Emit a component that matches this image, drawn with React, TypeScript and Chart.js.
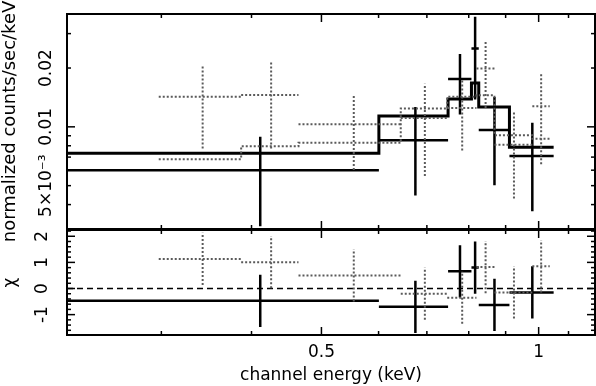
import React, { useEffect, useRef } from 'react';
import { Chart, registerables } from 'chart.js';
Chart.register(...registerables);

// ---- axis limits ----
const X_MIN = 0.222;
const X_MAX = 1.197;
const Y_MIN = 0.003;
const Y_MAX = 0.0378;
const R_MIN = -1.78;
const R_MAX = 2.24;

// ---- black spectrum (bin edges in keV) ----
const blackEdges = [0.222, 0.6006, 0.749, 0.807, 0.826, 0.911, 1.049];
const blackData = [0.006, 0.00855, 0.01756, 0.0252, 0.00962, 0.0071];
const blackErr = [0.0029, 0.0041, 0.006, 0.0114, 0.0046, 0.0034];
const blackModel = [0.00733, 0.01135, 0.01387, 0.01675, 0.01262, 0.00787];
const blackResid = [-0.47, -0.7, 0.66, 0.8, -0.63, -0.15];
const blackResidErr = [1, 1, 1, 1, 1, 1];

// ---- grey spectrum ----
const greyEdges = [0.2975, 0.387, 0.4647, 0.644, 0.747, 0.82, 0.8685, 0.98, 1.036];
const greyData = [0.01425, 0.01455, 0.01032, 0.0111, 0.01247, 0.0199, 0.0081, 0.01273];
const greyErr = [0.0065, 0.0068, 0.0043, 0.0055, 0.0049, 0.0074, 0.0038, 0.0063];
const greyModel = [0.00683, 0.00796, 0.00828, 0.01243, 0.01425, 0.0145, 0.00906, 0.0087];
const greyResid = [1.13, 1.01, 0.5, -0.2, -0.35, 0.82, -0.15, 0.85];
const greyResidErr = [1, 1, 1, 1, 1, 1, 1, 1];

// ---- tick labels and tick marks ----
const xLabelVals = [0.5, 1];
const xLabels = ['0.5', '1'];
const xMajor = [0.5, 1];
const xMinor = [0.3, 0.4, 0.6, 0.7, 0.8, 0.9, 1.1];

const yLabelVals = [0.005, 0.01, 0.02];
const yLabels = ['5×10⁻³', '0.01', '0.02'];
const yMajor = [0.01];
const yMinor = [0.003, 0.004, 0.005, 0.006, 0.007, 0.008, 0.009, 0.02, 0.03];

const rLabelVals = [-1, 0, 1, 2];
const rLabels = ['-1', '0', '1', '2'];
const rMajor = [-1, 0, 1, 2];
const rMinor = [-1.6, -1.4, -1.2, -0.8, -0.6, -0.4, -0.2, 0.2, 0.4, 0.6, 0.8, 1.2, 1.4, 1.6, 1.8, 2.2];

const FONT = "'DejaVu Sans', sans-serif";
const FS = 17;

function crossPts(edges: number[], vals: number[], errs: number[]) {
  const pts: any[] = [];
  vals.forEach((v, i) => {
    const lo = edges[i];
    const hi = edges[i + 1];
    const c = (lo + hi) / 2;
    const e = errs[i];
    pts.push({ x: lo, y: v }, { x: hi, y: v }, { x: hi, y: null });
    pts.push({ x: c, y: v - e }, { x: c, y: v + e }, { x: c, y: null });
  });
  return pts;
}

function stepPts(edges: number[], vals: number[]) {
  const pts: any[] = vals.map((v, i) => ({ x: edges[i], y: v }));
  pts.push({ x: edges[edges.length - 1], y: vals[vals.length - 1] });
  return pts;
}

const frameTicks = {
  id: 'frameTicks',
  afterDraw(chart: any, _args: any, opts: any) {
    const { ctx, chartArea: a, scales } = chart;
    const xs = scales.x;
    const ys = scales.y;
    ctx.save();
    ctx.strokeStyle = '#000';
    ctx.lineWidth = 1.5;
    const seg = (x1: number, y1: number, x2: number, y2: number) => {
      ctx.beginPath();
      ctx.moveTo(x1, y1);
      ctx.lineTo(x2, y2);
      ctx.stroke();
    };
    const doX = (vals: number[], len: number) => {
      vals.forEach((v) => {
        const p = xs.getPixelForValue(v);
        seg(p, a.top, p, a.top + len);
        seg(p, a.bottom, p, a.bottom - len);
      });
    };
    const doY = (vals: number[], len: number) => {
      vals.forEach((v) => {
        const p = ys.getPixelForValue(v);
        seg(a.left, p, a.left + len, p);
        seg(a.right, p, a.right - len, p);
      });
    };
    doX(opts.xMinor, 4);
    doX(opts.xMajor, 8);
    doY(opts.yMinor, 4);
    doY(opts.yMajor, 8);
    ctx.lineWidth = 2;
    ctx.strokeRect(a.left, a.top, a.right - a.left, a.bottom - a.top);
    ctx.restore();
  },
};

const lookup = (vals: number[], labels: string[]) => (value: any) => {
  const i = vals.findIndex((t) => Math.abs(t - Number(value)) < 1e-9);
  return i >= 0 ? labels[i] : '';
};

const noPad = (s: any) => {
  s.paddingTop = 0;
  s.paddingBottom = 0;
  s.paddingLeft = 0;
  s.paddingRight = 0;
};

export default function App() {
  const topRef = useRef<HTMLCanvasElement>(null);
  const botRef = useRef<HTMLCanvasElement>(null);

  useEffect(() => {
    document.body.style.margin = '0';
    Chart.defaults.font.family = FONT;
    Chart.defaults.font.size = FS;
    Chart.defaults.color = '#000';

    const m = document.createElement('canvas').getContext('2d')!;
    m.font = `${FS}px ${FONT}`;
    const wTop = Math.max(...yLabels.map((s) => m.measureText(s).width));
    const wBot = Math.max(...rLabels.map((s) => m.measureText(s).width));

    const black = { borderColor: '#000', borderWidth: 2.5 };
    const grey = { borderColor: '#5a5a5a', borderWidth: 2, borderDash: [2, 2] };
    const common = { type: 'line', pointRadius: 0, fill: false, spanGaps: false, tension: 0 };

    const top = new Chart(topRef.current!, {
      type: 'line',
      data: {
        datasets: [
          { ...common, ...grey, data: crossPts(greyEdges, greyData, greyErr) },
          { ...common, ...grey, stepped: 'before', data: stepPts(greyEdges, greyModel) },
          { ...common, ...black, data: crossPts(blackEdges, blackData, blackErr) },
          { ...common, ...black, borderWidth: 3, stepped: 'before', data: stepPts(blackEdges, blackModel) },
        ] as any,
      },
      options: {
        responsive: false,
        animation: false,
        devicePixelRatio: 1,
        layout: { padding: { left: 0, right: 1, top: 14, bottom: 21 } },
        plugins: {
          legend: { display: false },
          tooltip: { enabled: false },
          frameTicks: { xMajor, xMinor, yMajor, yMinor },
        } as any,
        scales: {
          x: {
            type: 'logarithmic',
            min: X_MIN,
            max: X_MAX,
            display: false,
            afterFit: noPad,
          },
          y: {
            type: 'logarithmic',
            min: Y_MIN,
            max: Y_MAX,
            position: 'left',
            grid: { display: false, drawTicks: false },
            border: { display: false },
            ticks: {
              minRotation: 90,
              maxRotation: 90,
              crossAlign: 'center',
              autoSkip: false,
              padding: 20 - wTop / 2,
              callback: lookup(yLabelVals, yLabels),
            },
            title: { display: true, text: 'normalized counts/sec/keV', padding: 0, font: { size: 18 } },
            afterBuildTicks: (s: any) => {
              s.ticks = yLabelVals.map((v) => ({ value: v }));
            },
            afterFit: (s: any) => {
              s.width = 67;
              noPad(s);
            },
          },
        } as any,
      },
      plugins: [frameTicks],
    });

    const bot = new Chart(botRef.current!, {
      type: 'line',
      data: {
        datasets: [
          { ...common, ...grey, data: crossPts(greyEdges, greyResid, greyResidErr) },
          { ...common, ...black, data: crossPts(blackEdges, blackResid, blackResidErr) },
          {
            ...common,
            borderColor: '#000',
            borderWidth: 1.3,
            borderDash: [6, 4],
            data: [
              { x: X_MIN, y: 0 },
              { x: X_MAX, y: 0 },
            ],
          },
        ] as any,
      },
      options: {
        responsive: false,
        animation: false,
        devicePixelRatio: 1,
        layout: { padding: { left: 0, right: 1, top: 1, bottom: 0 } },
        plugins: {
          legend: { display: false },
          tooltip: { enabled: false },
          frameTicks: { xMajor, xMinor, yMajor: rMajor, yMinor: rMinor },
        } as any,
        scales: {
          x: {
            type: 'logarithmic',
            min: X_MIN,
            max: X_MAX,
            grid: { display: false, drawTicks: false },
            border: { display: false },
            ticks: {
              minRotation: 0,
              maxRotation: 0,
              autoSkip: false,
              padding: 7,
              callback: lookup(xLabelVals, xLabels),
            },
            title: { display: true, text: 'channel energy (keV)', padding: 0 },
            afterBuildTicks: (s: any) => {
              s.ticks = xLabelVals.map((v) => ({ value: v }));
            },
            afterFit: (s: any) => {
              s.height = 51;
              noPad(s);
            },
          },
          y: {
            type: 'linear',
            min: R_MIN,
            max: R_MAX,
            position: 'left',
            grid: { display: false, drawTicks: false },
            border: { display: false },
            ticks: {
              minRotation: 90,
              maxRotation: 90,
              crossAlign: 'center',
              autoSkip: false,
              padding: 24 - wBot / 2,
              callback: lookup(rLabelVals, rLabels),
            },
            title: { display: true, text: 'χ', padding: 0 },
            afterBuildTicks: (s: any) => {
              s.ticks = rLabelVals.map((v) => ({ value: v }));
            },
            afterFit: (s: any) => {
              s.width = 67;
              noPad(s);
            },
          },
        } as any,
      },
      plugins: [frameTicks],
    });

    return () => {
      top.destroy();
      bot.destroy();
    };
  }, []);

  return (
    <div style={{ position: 'relative', width: 596, height: 386, background: '#fff' }}>
      <canvas ref={topRef} width={596} height={250} style={{ position: 'absolute', left: 0, top: 0 }} />
      <canvas ref={botRef} width={596} height={157} style={{ position: 'absolute', left: 0, top: 229 }} />
    </div>
  );
}
